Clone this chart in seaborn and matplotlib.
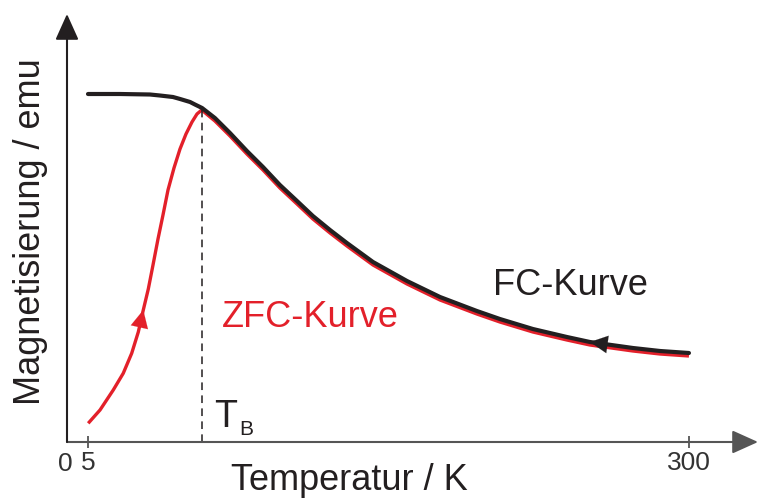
import matplotlib
matplotlib.use("Agg")
import matplotlib.pyplot as plt
import seaborn as sns
import pandas as pd

# ---- data (temperature in K, magnetisation in arbitrary units) ----
fc_T = [5.0, 20.7, 35.4, 40.3, 46.7, 50.2, 55.1, 57.5, 61.0, 67.3, 74.7, 83.0,
        90.9, 99.2, 107.6, 115.4, 123.8, 132.1, 144.9, 161.6, 177.8, 195.9,
        207.2, 223.4, 240.1, 251.4, 272.5, 285.8, 300.0]
fc_M = [348, 348, 347.5, 346.5, 345, 343, 340, 337.5, 334, 324, 309, 291,
        275, 257, 241, 226, 212, 199, 180, 161, 145, 131,
        123, 113, 105, 100, 94, 91, 89]

zfc_T = [5.1, 10.9, 17.4, 22.3, 26.45, 29.69, 32.14, 34.60, 36.91, 39.36,
         41.81, 44.27, 47.21, 50.16, 53.10, 56.05, 58.50, 60.81,
         67.3, 74.7, 83.0, 90.9, 99.2, 107.6, 115.4, 123.8,
         132.1, 144.9, 161.6, 177.8, 195.9, 207.2, 223.4, 240.1, 251.4, 272.5,
         285.8, 300.0]
zfc_M = [18.7, 32, 52, 68.7, 88.7, 110, 132, 153, 177, 203,
         227, 252, 274, 293, 308, 320, 328, 332,
         321, 306, 288, 272, 254, 238, 223, 209,
         196, 177, 158, 142, 128, 120, 110, 102, 97, 91,
         88, 86]

x_ticks = [5, 300]
x_tick_labels = ["5", "300"]
T_B = 60.81

RED = "#e3202a"
BLACK = "#231f20"
GREY = "#555555"

sns.set_theme(style="white")
plt.rcParams["font.family"] = ["Liberation Sans", "DejaVu Sans"]

W, H = 760, 500
fig = plt.figure(figsize=(W / 100, H / 100), dpi=100)
fig.patch.set_facecolor("white")

def fx(px):
    return px / W

def fy(py):
    return 1 - py / H

ax = fig.add_axes([fx(67), fy(442), fx(758) - fx(67), fy(14) - fy(442)])
ax.set_facecolor("white")

fc = pd.DataFrame({"T": fc_T, "M": fc_M})
zfc = pd.DataFrame({"T": zfc_T, "M": zfc_M})

sns.lineplot(data=zfc, x="T", y="M", sort=False, estimator=None, ax=ax,
             color=RED, lw=2.4, solid_capstyle="butt", solid_joinstyle="round")
sns.lineplot(data=fc, x="T", y="M", sort=False, estimator=None, ax=ax,
             color=BLACK, lw=3.0, solid_capstyle="round", solid_joinstyle="round")

# T_B dashed line
peak = max(zfc_M)
ax.vlines(T_B, 0, peak, colors=BLACK, linestyles=(0, (5, 3.5)), lw=1.1)

# direction arrows on the curves
i = fc_T.index(251.4)
ax.annotate("", xy=(fc_T[i], fc_M[i]), xytext=(fc_T[i + 1], fc_M[i + 1]),
            arrowprops=dict(arrowstyle="-|>,head_length=0.9,head_width=0.45",
                            color=BLACK, lw=0.1, shrinkA=0, shrinkB=0,
                            mutation_scale=14))
j = zfc_T.index(32.14)
ax.annotate("", xy=(zfc_T[j], zfc_M[j]), xytext=(zfc_T[j - 1], zfc_M[j - 1]),
            arrowprops=dict(arrowstyle="-|>,head_length=0.9,head_width=0.45",
                            color=RED, lw=0.1, shrinkA=0, shrinkB=0,
                            mutation_scale=14))

# axis limits (x: pixel 67 -> -5.3, pixel 758 -> 333.9)
ax.set_xlim(-5.31, 333.9)
ax.set_ylim(0, 428)

for s in ax.spines.values():
    s.set_visible(False)

# axes with arrowheads
ax.annotate("", xy=(1, 0), xytext=(0, 0), xycoords="axes fraction",
            arrowprops=dict(arrowstyle="-|>,head_length=1.0,head_width=0.45",
                            color=GREY, lw=1.5, shrinkA=0, shrinkB=0,
                            mutation_scale=16), annotation_clip=False)
ax.annotate("", xy=(0, 1), xytext=(0, 0), xycoords="axes fraction",
            arrowprops=dict(arrowstyle="-|>,head_length=1.0,head_width=0.45",
                            color=BLACK, lw=1.5, shrinkA=0, shrinkB=0,
                            mutation_scale=16), annotation_clip=False)

ax.set_xticks(x_ticks)
ax.set_xticklabels(x_tick_labels)
ax.set_yticks([])
ax.tick_params(axis="x", direction="inout", length=9, width=1.3, colors=GREY,
               labelcolor="#333333", labelsize=19, pad=2, bottom=True)
ax.set_xlabel("")
ax.set_ylabel("")

TXT = "#231f20"
fig.text(fx(65), fy(452), "0", fontsize=19, color="#333333", ha="center", va="top")
fig.text(fx(349), fy(490), "Temperatur / K", fontsize=26, color=TXT,
         ha="center", va="baseline")
fig.text(fx(31), fy(232), "Magnetisierung / emu", fontsize=26, color=TXT,
         ha="center", va="center", rotation=90)
fig.text(fx(493), fy(295), "FC-Kurve", fontsize=26, color=TXT, ha="left", va="baseline")
fig.text(fx(222), fy(327), "ZFC-Kurve", fontsize=26, color=RED, ha="left", va="baseline")
fig.text(fx(214), fy(427), "T", fontsize=27, color=TXT, ha="left", va="baseline")
fig.text(fx(239), fy(435), "B", fontsize=15, color=TXT, ha="left", va="baseline")

fig.savefig("out.png", dpi=100, facecolor="white")
